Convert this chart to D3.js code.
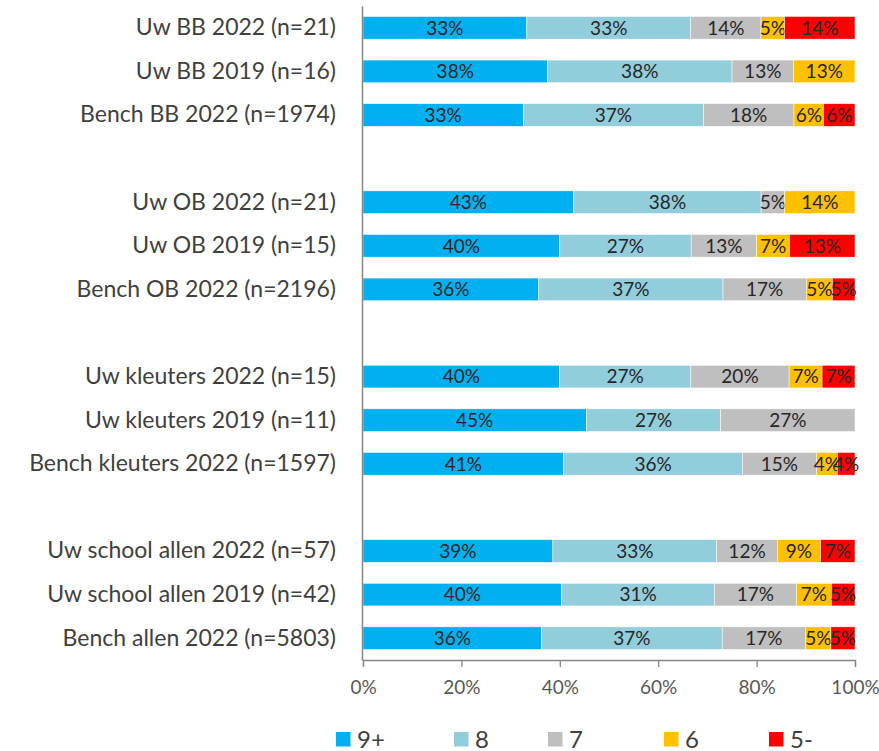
<!DOCTYPE html>
<html>
<head>
<meta charset="utf-8">
<script src="https://cdn.jsdelivr.net/npm/d3@7"></script>
<style>
	body { margin : 0; background : #fff; }
	svg text { font-family : Lato, 'Open Sans', sans-serif; }
</style>
</head>
<body>
<div id="chart"></div>
<script>
const categories = ['Uw BB 2022 (n=21)', 'Uw BB 2019 (n=16)', 'Bench BB 2022 (n=1974)',
					'Uw OB 2022 (n=21)', 'Uw OB 2019 (n=15)', 'Bench OB 2022 (n=2196)',
					'Uw kleuters 2022 (n=15)', 'Uw kleuters 2019 (n=11)', 'Bench kleuters 2022 (n=1597)',
					'Uw school allen 2022 (n=57)', 'Uw school allen 2019 (n=42)', 'Bench allen 2022 (n=5803)'];

const seriesNames = ['9+', '8', '7', '6', '5-'];

const nine  = [33.3, 37.5, 32.6, 42.9, 40.0, 35.7, 40.0, 45.4, 40.8, 38.6, 40.4, 36.3];
const eight = [33.3, 37.5, 36.6, 38.1, 26.7, 37.4, 26.7, 27.3, 36.3, 33.3, 31.0, 36.7];
const seven = [14.3, 12.5, 18.4, 4.8, 13.3, 16.9, 20.0, 27.3, 15.1, 12.3, 16.7, 17.0];
const six   = [4.8, 12.5, 6.0, 14.3, 6.7, 5.3, 6.7, 0, 4.2, 8.8, 7.1, 5.1];
const five  = [14.3, 0, 6.4, 0, 13.3, 4.6, 6.7, 0, 3.6, 7.0, 4.8, 4.9];

const tickValues = [0, 0.2, 0.4, 0.6, 0.8, 1];

const colors = ['#00B0F0', '#92CDDC', '#BFBFBF', '#FFC000', '#FF0000'];

const width  = 879;
const height = 751;

// rows plus one empty slot after each group of three
const slots = [];
categories.forEach( ( c, i ) => {
	slots.push( c );
	if ( i % 3 === 2 && i < categories.length - 1 ) {
		slots.push( 'gap' + i );
	}
} );

const table = categories.map( ( c, i ) => ( {
	cat  : c,
	'9+' : nine[i],
	'8'  : eight[i],
	'7'  : seven[i],
	'6'  : six[i],
	'5-' : five[i]
} ) );

const stack = d3.stack()
				.keys( seriesNames )
				.offset( d3.stackOffsetExpand );

const layers = stack( table );

const x = d3.scaleLinear()
			.domain( [0, 1] )
			.range( [363, 855] );

const y = d3.scaleBand()
			.domain( slots )
			.range( [6, 660] )
			.paddingInner( 0.48 )
			.paddingOuter( 0.24 );

const color = d3.scaleOrdinal()
				.domain( seriesNames )
				.range( colors );

const svg = d3.select( '#chart' )
			  .append( 'svg' )
			  .attr( 'width', width )
			  .attr( 'height', height );

const layer = svg.selectAll( 'g.layer' )
				 .data( layers )
				 .enter()
				 .append( 'g' )
				 .attr( 'class', 'layer' )
				 .attr( 'fill', d => color( d.key ) );

layer.selectAll( 'rect' )
	 .data( d => d )
	 .enter()
	 .append( 'rect' )
	 .attr( 'x', d => x( d[0] ) )
	 .attr( 'y', d => y( d.data.cat ) )
	 .attr( 'width', d => x( d[1] ) - x( d[0] ) )
	 .attr( 'height', y.bandwidth() )
	 .attr( 'stroke', '#fff' )
	 .attr( 'stroke-width', 0.5 );

// data labels
layer.selectAll( 'text' )
	 .data( d => d.map( v => Object.assign( v, { key : d.key } ) ).filter( v => v.data[d.key] > 0 ) )
	 .enter()
	 .append( 'text' )
	 .attr( 'x', d => ( x( d[0] ) + x( d[1] ) ) / 2 )
	 .attr( 'y', d => y( d.data.cat ) + y.bandwidth() / 2 )
	 .attr( 'dy', '0.36em' )
	 .attr( 'text-anchor', 'middle' )
	 .attr( 'font-size', '19px' )
	 .attr( 'fill', '#262626' )
	 .text( d => Math.round( d.data[d.key] ) + '%' );

// category axis
const yAxis = svg.append( 'g' )
				 .attr( 'transform', 'translate(362,0)' )
				 .call( d3.axisLeft( y ).tickSize( 0 ).tickPadding( 26 )
						  .tickFormat( d => d.startsWith( 'gap' ) ? '' : d ) );

yAxis.select( '.domain' )
	 .attr( 'stroke', '#868686' )
	 .attr( 'stroke-width', 1.5 );

yAxis.selectAll( 'text' )
	 .attr( 'font-size', '23px' )
	 .attr( 'fill', '#404040' );

// value axis
const xAxis = svg.append( 'g' )
				 .attr( 'transform', 'translate(0,660)' )
				 .call( d3.axisBottom( x ).tickValues( tickValues )
						  .tickFormat( d3.format( '.0%' ) )
						  .tickSizeInner( 7 ).tickSizeOuter( 7 ).tickPadding( 14 ) );

xAxis.selectAll( 'path, line' )
	 .attr( 'stroke', '#868686' )
	 .attr( 'stroke-width', 1.3 );

xAxis.selectAll( 'text' )
	 .attr( 'font-size', '19px' )
	 .attr( 'fill', '#595959' );

// legend
const legendX = [336, 454, 548, 664, 769];

const legend = svg.selectAll( 'g.legend' )
				  .data( seriesNames )
				  .enter()
				  .append( 'g' )
				  .attr( 'class', 'legend' )
				  .attr( 'transform', ( d, i ) => `translate(${legendX[i]},732)` );

legend.append( 'rect' )
	  .attr( 'width', 14.5 )
	  .attr( 'height', 14.5 )
	  .attr( 'fill', d => color( d ) );

legend.append( 'text' )
	  .attr( 'x', 21 )
	  .attr( 'y', 15.5 )
	  .attr( 'font-size', '24px' )
	  .attr( 'fill', '#404040' )
	  .text( d => d );
</script>
</body>
</html>
